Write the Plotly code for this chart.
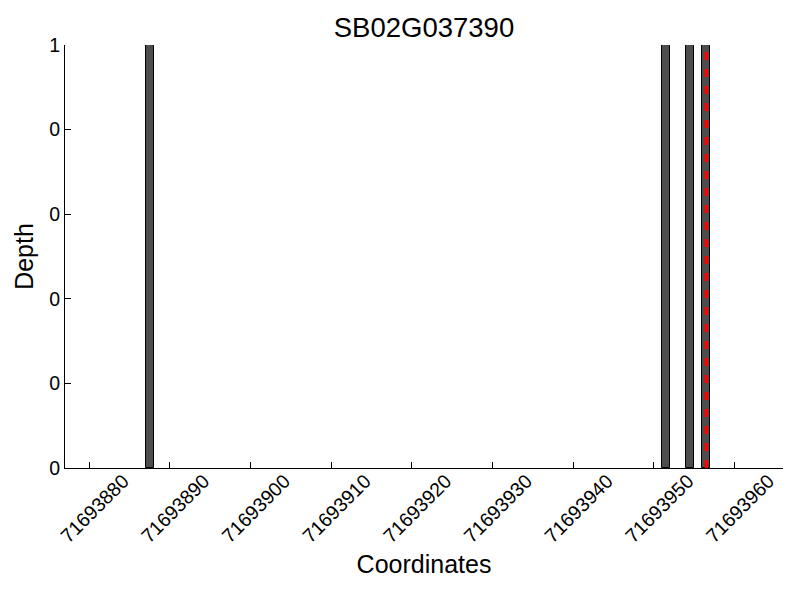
import plotly.graph_objects as go

# Read coverage depth per coordinate (bar start positions, width 1)
positions = [71693887, 71693951, 71693954, 71693956]
depths = [1, 1, 1, 1]

# Highlighted site (drawn as red dashed line through the bar centre)
highlight = [71693956]

x_ticks = [71693880, 71693890, 71693900, 71693910, 71693920,
           71693930, 71693940, 71693950, 71693960]
y_ticks = [0, 0.2, 0.4, 0.6, 0.8, 1.0]
y_tick_labels = ["0", "0", "0", "0", "0", "1"]

FONT = "Liberation Sans, Arial, Helvetica, sans-serif"

fig = go.Figure()

fig.add_trace(go.Bar(
    x=positions,
    y=depths,
    width=1,
    offset=0,
    marker=dict(color="#4d4d4d", line=dict(color="black", width=1)),
    showlegend=False,
))

for h in highlight:
    fig.add_shape(
        type="line",
        x0=h + 0.5, x1=h + 0.5,
        y0=0, y1=1,
        xref="x", yref="y",
        line=dict(color="red", width=3.5, dash="8px,9px"),
    )

fig.update_layout(
    width=800,
    height=600,
    plot_bgcolor="white",
    paper_bgcolor="white",
    font=dict(family=FONT, color="black", size=19.5),
    margin=dict(l=65, r=17, t=45, b=132, autoexpand=False),
    title=dict(
        text="SB02G037390",
        font=dict(size=27.5, family=FONT, color="black"),
        x=0.5, xref="paper", xanchor="center",
        y=1 - 27 / 600, yref="container", yanchor="middle",
    ),
    xaxis=dict(
        range=[71693877, 71693966],
        tickmode="array",
        tickvals=x_ticks,
        ticktext=[str(t) for t in x_ticks],
        tickangle=-45,
        tickfont=dict(size=19.5),
        ticklabelshift=34,
        ticklabelstandoff=-7,
        ticks="inside",
        ticklen=6,
        tickcolor="black",
        showline=True,
        linecolor="black",
        linewidth=1,
        mirror=False,
        showgrid=False,
        zeroline=False,
        automargin=False,
        title=dict(text="Coordinates", font=dict(size=25, family=FONT), standoff=9),
    ),
    yaxis=dict(
        range=[0, 1],
        tickmode="array",
        tickvals=y_ticks,
        ticktext=y_tick_labels,
        ticks="inside",
        ticklen=6,
        tickcolor="black",
        showline=True,
        linecolor="black",
        linewidth=1,
        mirror=False,
        showgrid=False,
        zeroline=False,
        automargin=False,
        title=dict(text="Depth", font=dict(size=25, family=FONT), standoff=8),
    ),
    bargap=0,
)

fig.write_html(
    "out.html",
    config={"displayModeBar": False},
    post_script="document.body.style.margin='0';",
)
